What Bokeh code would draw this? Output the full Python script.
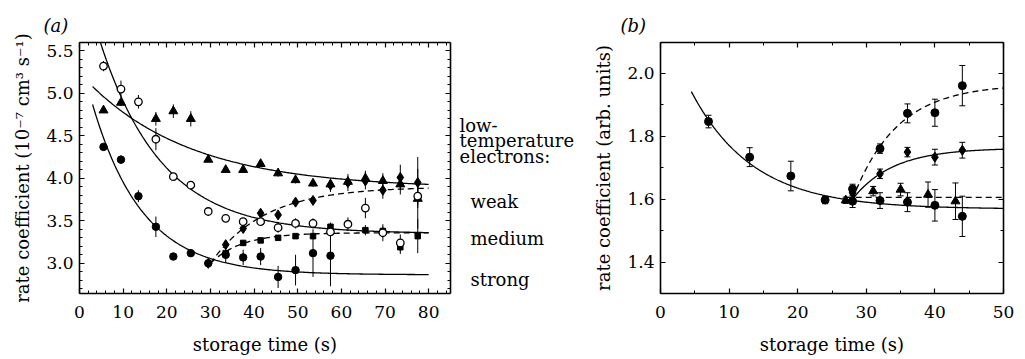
import numpy as np
from bokeh.plotting import figure
from bokeh.models import (LinearAxis, Range1d, Whisker, ColumnDataSource,
                          SingleIntervalTicker, CustomJSTickFormatter, TeeHead,
                          NumeralTickFormatter)
from bokeh.core.properties import value
from bokeh.layouts import row
from bokeh.embed import file_html
from bokeh.resources import INLINE

FONT = "DejaVu Serif"

# ---------------- Panel (a) data ----------------
t_weak = [5.5, 9.5, 17.5, 21.5, 25.5, 29.5, 33.5, 37.5, 41.5, 45.5, 49.5, 53.5, 57.5, 61.5, 65.5, 69.5, 73.5, 77.5]
y_weak = [4.80, 4.89, 4.70, 4.79, 4.70, 4.22, 4.10, 4.10, 4.17, 4.06, 3.98, 3.94, 3.93, 3.96, 4.00, 3.97, 3.93, 3.76]
e_weak = [0.0, 0.04, 0.08, 0.08, 0.09, 0.03, 0.03, 0.03, 0.03, 0.04, 0.04, 0.04, 0.06, 0.05, 0.09, 0.09, 0.12, 0.35]

t_medium = [5.5, 9.5, 13.5, 17.5, 21.5, 25.5, 29.5, 33.5, 37.5, 41.5, 45.5, 49.5, 53.5, 57.5, 61.5, 65.5, 69.5, 73.5, 77.5]
y_medium = [5.32, 5.05, 4.90, 4.46, 4.02, 3.92, 3.61, 3.53, 3.49, 3.49, 3.42, 3.47, 3.47, 3.37, 3.46, 3.65, 3.36, 3.24, 3.79]
e_medium = [0.06, 0.10, 0.08, 0.13, 0.03, 0.04, 0.03, 0.02, 0.04, 0.05, 0.06, 0.06, 0.06, 0.10, 0.08, 0.12, 0.10, 0.10, 0.10]

t_strong = [5.5, 9.5, 13.5, 17.5, 21.5, 25.5, 29.5, 33.5, 37.5, 41.5, 45.5, 49.5, 53.5, 57.5]
y_strong = [4.37, 4.22, 3.79, 3.43, 3.08, 3.12, 3.00, 3.10, 3.07, 3.08, 2.84, 2.92, 3.12, 3.09]
e_strong = [0.03, 0.05, 0.07, 0.12, 0.02, 0.03, 0.04, 0.09, 0.09, 0.10, 0.13, 0.18, 0.28, 0.36]

t_diam = [29.5, 33.5, 37.5, 41.5, 45.5, 49.5, 53.5, 57.5, 61.5, 65.5, 69.5, 73.5, 77.5]
y_diam = [3.00, 3.22, 3.41, 3.59, 3.57, 3.72, 3.74, 3.92, 3.95, 3.97, 3.86, 4.01, 3.95]
e_diam = [0.03, 0.05, 0.05, 0.05, 0.05, 0.04, 0.04, 0.08, 0.10, 0.10, 0.10, 0.15, 0.30]

t_sq = [33.5, 37.5, 41.5, 45.5, 49.5, 53.5, 57.5, 65.5, 69.5, 73.5, 77.5]
y_sq = [3.12, 3.24, 3.27, 3.30, 3.32, 3.32, 3.43, 3.39, 3.38, 3.19, 3.32]
e_sq = [0.03, 0.03, 0.03, 0.03, 0.03, 0.03, 0.05, 0.06, 0.05, 0.08, 0.20]

# exponential fit parameters (asymptote, amplitude, time constant[, start time])
fit_weak = (3.88, 1.36, 24.0)
fit_medium = (3.35, 3.15, 14.2)
fit_strong = (2.865, 2.60, 11.5)
fit_diam = (3.90, 0.90, 12.4, 30.0)
fit_sq = (3.36, 0.36, 7.2, 30.0)

legend_text = ["low-", "temperature", "electrons:", "weak", "medium", "strong"]
legend_level = [4.626, 4.441, 4.253, 3.727, 3.296, 2.806]
legend_indent = [3, 3, 3, 14, 14, 14]

# ---------------- Panel (b) data ----------------
tb_decay = [7, 13, 19, 24, 28, 32, 36, 40, 44]
yb_decay = [1.846, 1.733, 1.673, 1.597, 1.593, 1.595, 1.590, 1.580, 1.545]
eb_decay = [0.02, 0.03, 0.047, 0.012, 0.02, 0.025, 0.03, 0.05, 0.064]

tb_high = [28, 32, 36, 40, 44]
yb_high = [1.632, 1.760, 1.872, 1.874, 1.960]
eb_high = [0.015, 0.015, 0.03, 0.043, 0.064]

tb_mid = [28, 32, 36, 40, 44]
yb_mid = [1.620, 1.680, 1.749, 1.733, 1.755]
eb_mid = [0.01, 0.015, 0.015, 0.025, 0.025]

tb_tri = [27, 31, 35, 39, 43]
yb_tri = [1.596, 1.625, 1.630, 1.614, 1.593]
eb_tri = [0.01, 0.015, 0.02, 0.04, 0.058]

fitb_decay = (1.568, 0.615, 9.0)
fitb_high = (1.965, 0.365, 6.5, 28.0)
fitb_mid = (1.762, 0.162, 5.9, 28.0)
fitb_flat = 1.605

YR_A = (2.645, 5.598)
YR_B = (1.30, 2.097)
TOP = 42
FH = 251
BOTTOM = 66


def decay(par, t):
    a, b, tau = par
    return a + b * np.exp(-t / tau)


def rise(par, t):
    a, b, tau, t0 = par
    return a - b * np.exp(-(t - t0) / tau)


def style_axis(ax, show_labels=True):
    ax.axis_line_width = 1.6
    ax.axis_line_color = "black"
    ax.major_tick_in = 5
    ax.major_tick_out = 0
    ax.minor_tick_in = 3
    ax.minor_tick_out = 0
    ax.major_tick_line_width = 1.2
    ax.minor_tick_line_width = 1
    ax.major_tick_line_color = "black"
    ax.minor_tick_line_color = "black"
    ax.major_label_text_font = FONT
    ax.major_label_text_color = "black"
    ax.axis_label_text_font = FONT
    ax.axis_label_text_font_size = "18px"
    ax.axis_label_text_font_style = "normal"
    ax.axis_label_text_color = "black"
    if show_labels:
        ax.major_label_text_font_size = "17px"
    else:
        ax.major_label_text_font_size = "0px"
        ax.major_label_standoff = 0
        ax.formatter = CustomJSTickFormatter(code="return ''")


def make_fig(xr, yr, xtick, xminor, ytick, yminor, mb_left, mb_right, fw, ylabel, tag, tag_offset):
    p = figure(frame_width=fw, frame_height=FH, x_range=Range1d(*xr), y_range=Range1d(*yr),
               output_backend="svg", toolbar_location=None,
               min_border_left=mb_left, min_border_right=mb_right,
               min_border_top=TOP, min_border_bottom=BOTTOM,
               x_axis_label="storage time (s)", y_axis_label=ylabel)
    p.outline_line_color = None
    p.grid.visible = False
    p.background_fill_color = "white"
    p.border_fill_color = "white"
    p.title.text = tag
    p.title.align = "left"
    p.title.offset = tag_offset
    p.title.text_font = FONT
    p.title.text_font_size = "18px"
    p.title.text_font_style = "italic"
    p.title.text_color = "black"
    p.title.standoff = 14
    p.xaxis.ticker = SingleIntervalTicker(interval=xtick, num_minor_ticks=xminor)
    p.yaxis.ticker = SingleIntervalTicker(interval=ytick, num_minor_ticks=yminor)
    p.yaxis.formatter = NumeralTickFormatter(format="0.0")
    for ax in p.xaxis + p.yaxis:
        style_axis(ax)
    p.xaxis.major_label_standoff = 12
    p.xaxis.axis_label_standoff = 13
    p.yaxis.major_label_standoff = 6
    p.yaxis.axis_label_standoff = 10
    top = LinearAxis(ticker=SingleIntervalTicker(interval=xtick, num_minor_ticks=xminor))
    right = LinearAxis(ticker=SingleIntervalTicker(interval=ytick, num_minor_ticks=yminor))
    style_axis(top, False)
    style_axis(right, False)
    p.add_layout(top, "above")
    p.add_layout(right, "right")
    return p


def errbars(p, t, y, e, caps=False):
    y = np.array(y)
    e = np.array(e)
    src = ColumnDataSource(dict(x=t, lo=y - e, hi=y + e))
    if caps:
        w = Whisker(source=src, base="x", lower="lo", upper="hi", line_width=1, line_color="black",
                    upper_head=TeeHead(size=6, line_width=1, line_color="black"),
                    lower_head=TeeHead(size=6, line_width=1, line_color="black"))
    else:
        w = Whisker(source=src, base="x", lower="lo", upper="hi", line_width=1, line_color="black",
                    upper_head=None, lower_head=None)
    p.add_layout(w)


# ---------------- Panel (a) ----------------
pa = make_fig((0, 85), YR_A, 10, 5, 0.5, 5, 79, 6, 371,
              "rate coefficient (10⁻⁷ cm³ s⁻¹)", "(a)", -36)

tt = np.linspace(3, 80, 300)
for par in (fit_weak, fit_medium, fit_strong):
    pa.line(tt, decay(par, tt), line_color="black", line_width=1.3)
tr = np.linspace(30, 80, 200)
for par in (fit_diam, fit_sq):
    pa.line(tr, rise(par, tr), line_color="black", line_width=1.3, line_dash="6 4")

for t, y, e in ((t_weak, y_weak, e_weak), (t_medium, y_medium, e_medium), (t_strong, y_strong, e_strong),
                (t_diam, y_diam, e_diam), (t_sq, y_sq, e_sq)):
    errbars(pa, t, y, e)

pa.scatter(t_strong, y_strong, marker="circle", size=7.5, fill_color="black", line_color="black")
pa.scatter(t_diam, y_diam, marker="diamond", size=10, fill_color="black", line_color="black")
pa.scatter(t_sq, y_sq, marker="square", size=5.5, fill_color="black", line_color="black")
pa.scatter(t_weak, y_weak, marker="triangle", size=9, fill_color="black", line_color="black")
pa.scatter(t_medium, y_medium, marker="circle", size=7.5, fill_color="white", line_color="black", line_width=1.3)

# ---------------- legend text column (between panels) ----------------
pt = figure(frame_width=124, frame_height=FH, x_range=Range1d(0, 124), y_range=Range1d(*YR_A),
            output_backend="svg", toolbar_location=None, x_axis_type=None, y_axis_type=None,
            min_border_left=0, min_border_right=0, min_border_top=TOP, min_border_bottom=BOTTOM)
pt.outline_line_color = None
pt.grid.visible = False
pt.text(x=legend_indent, y=legend_level, text=legend_text, text_font=value(FONT),
        text_font_size="18px", text_color="black", text_baseline="alphabetic", text_align="left")

# ---------------- Panel (b) ----------------
pb = make_fig((0, 50), YR_B, 10, 2, 0.2, 2, 80, 22, 343,
              "rate coefficient (arb. units)", "(b)", -40)

tdb = np.linspace(4.5, 50, 300)
pb.line(tdb, decay(fitb_decay, tdb), line_color="black", line_width=1.3)
trb = np.linspace(28, 50, 200)
pb.line(trb, rise(fitb_high, trb), line_color="black", line_width=1.3, line_dash="6 4")
pb.line(trb, rise(fitb_mid, trb), line_color="black", line_width=1.3)
pb.line([27, 50], [fitb_flat, fitb_flat], line_color="black", line_width=1.3, line_dash="6 4")

for t, y, e in ((tb_decay, yb_decay, eb_decay), (tb_high, yb_high, eb_high),
                (tb_mid, yb_mid, eb_mid), (tb_tri, yb_tri, eb_tri)):
    errbars(pb, t, y, e, caps=True)

pb.scatter(tb_decay, yb_decay, marker="circle", size=8, fill_color="black", line_color="black")
pb.scatter(tb_high, yb_high, marker="circle", size=8, fill_color="black", line_color="black")
pb.scatter(tb_mid, yb_mid, marker="diamond", size=10, fill_color="black", line_color="black")
pb.scatter(tb_tri, yb_tri, marker="triangle", size=9, fill_color="black", line_color="black")

layout = row(pa, pt, pb)
open("out.html", "w").write(file_html(layout, INLINE))
